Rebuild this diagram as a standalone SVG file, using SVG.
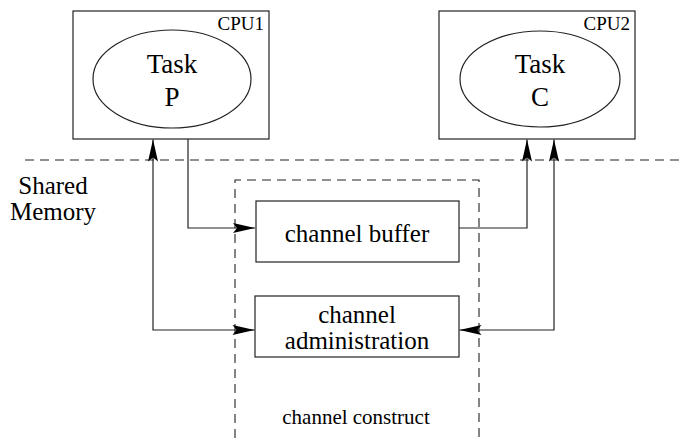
<svg xmlns="http://www.w3.org/2000/svg" width="699" height="438" viewBox="0 0 699 438">
  <style>
    .box { fill: #fff; stroke: #222; stroke-width: 1.2; }
    .dash { fill: none; stroke: #222; stroke-width: 1.1; stroke-dasharray: 9 6; }
    .wire { fill: none; stroke: #222; stroke-width: 1.2; }
    text { font-family: "Liberation Serif", "Times New Roman", serif; fill: #000; }
    .big { font-size: 27px; text-anchor: middle; }
    .mid { font-size: 25px; text-anchor: middle; }
    .cpu { font-size: 19px; text-anchor: end; }
    .small { font-size: 21px; text-anchor: middle; }
  </style>
  <defs>
    <!-- long, notched arrowhead with its tip at the path end -->
    <marker id="arrow" markerUnits="userSpaceOnUse" markerWidth="24" markerHeight="12" viewBox="-23 -6 24 12" refX="0" refY="0" orient="auto-start-reverse">
      <path d="M0,0 L-22,-5 L-18,0 L-22,5 Z" fill="#000"/>
    </marker>
  </defs>

  <rect width="699" height="438" fill="#fff"/>

  <!-- shared memory boundary -->
  <line class="dash" x1="25" y1="160" x2="684" y2="160"/>
  <text class="mid" x="53" y="194">Shared</text>
  <text class="mid" x="53" y="220">Memory</text>

  <!-- channel construct outline (open at the bottom) -->
  <g id="channel-construct">
    <path class="dash" d="M235,438 V180 H479 V438"/>
    <text class="small" x="356" y="424">channel construct</text>
  </g>

  <g id="cpu1">
    <rect class="box" x="73" y="11" width="196" height="128"/>
    <text class="cpu" x="264" y="30">CPU1</text>
    <ellipse class="box" cx="172" cy="79" rx="79" ry="49"/>
    <text class="big" x="172" y="73">Task</text>
    <text class="big" x="172" y="106">P</text>
  </g>

  <g id="cpu2">
    <rect class="box" x="439" y="11" width="196" height="128"/>
    <text class="cpu" x="630" y="30">CPU2</text>
    <ellipse class="box" cx="540" cy="79" rx="80" ry="48"/>
    <text class="big" x="540" y="73">Task</text>
    <text class="big" x="540" y="106">C</text>
  </g>

  <g id="channel-buffer">
    <rect class="box" x="256" y="201" width="203" height="61"/>
    <text class="mid" x="357" y="242">channel buffer</text>
  </g>

  <g id="channel-administration">
    <rect class="box" x="255" y="296" width="204" height="61"/>
    <text class="mid" x="357" y="323">channel</text>
    <text class="mid" x="357" y="349">administration</text>
  </g>

  <g id="connectors">
    <path class="wire" d="M188,139 V228 H255" marker-end="url(#arrow)"/>
    <path class="wire" d="M459,228 H527 V139.5" marker-end="url(#arrow)"/>
    <path class="wire" d="M153,139.5 V330 H254.5" marker-start="url(#arrow)" marker-end="url(#arrow)"/>
    <path class="wire" d="M554,139.5 V330 H459.5" marker-start="url(#arrow)" marker-end="url(#arrow)"/>
  </g>
</svg>
